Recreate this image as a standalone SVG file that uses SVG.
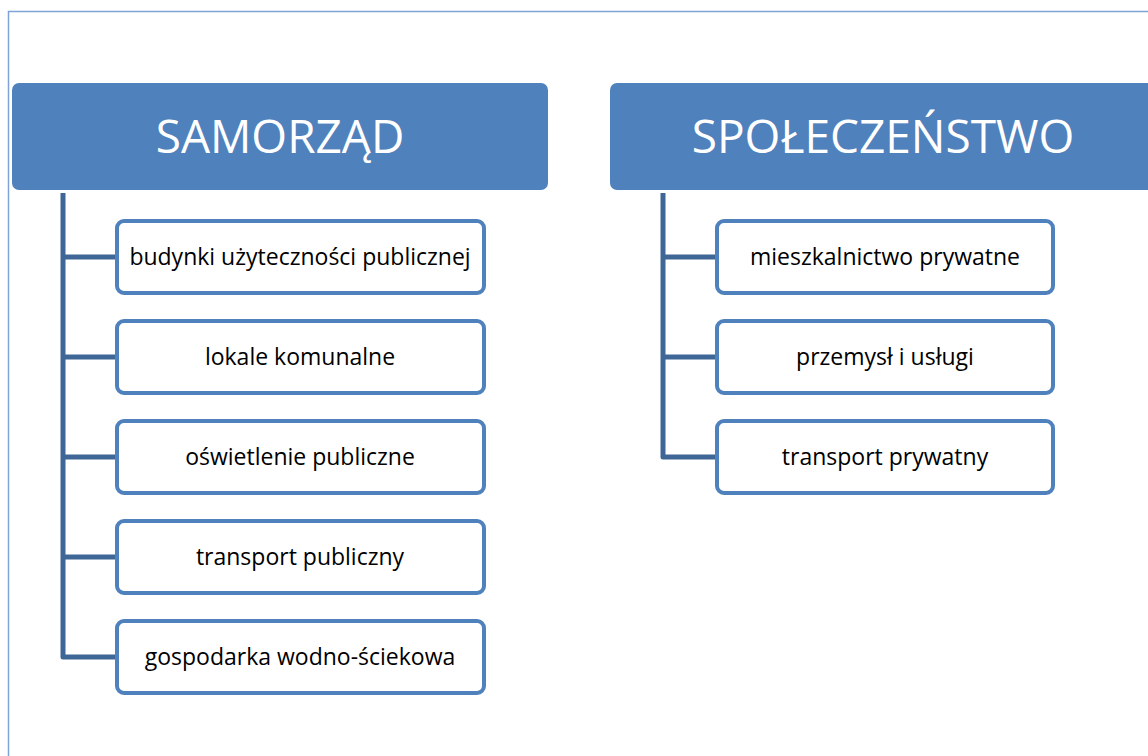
<svg xmlns="http://www.w3.org/2000/svg" width="1148" height="756" viewBox="0 0 1148 756">
<style>
.hdr{fill:#4F81BD;}
.hdrt{fill:#fff;font-family:"Open Sans","Liberation Sans",sans-serif;font-size:46px;text-anchor:middle;}
.box{fill:#fff;stroke:#4F81BD;stroke-width:4;}
.bt{fill:#000;font-family:"Open Sans","Liberation Sans",sans-serif;font-size:23px;text-anchor:middle;}
.con{fill:none;stroke:#3E6696;stroke-width:5;stroke-linejoin:round;}
</style>
<rect x="0" y="0" width="1148" height="756" fill="#fff"/>
<rect x="8.5" y="11.5" width="1160" height="760" fill="none" stroke="#7FA3D6" stroke-width="1.5"/>
<g id="connectors">
<path class="con" d="M63 193 V657 H117 M63 257 H117 M63 357 H117 M63 457 H117 M63 557 H117"/>
<path class="con" d="M663 193 V457 H717 M663 257 H717 M663 357 H717"/>
</g>
<g id="samorzad">
<rect class="hdr" x="12" y="83" width="536" height="107" rx="7"/>
<text class="hdrt" x="280" y="153">SAMORZĄD</text>
</g>
<g id="spoleczenstwo">
<rect class="hdr" x="610" y="83" width="560" height="107" rx="7"/>
<text class="hdrt" x="883" y="153">SPOŁECZEŃSTWO</text>
</g>
<g id="n1"><rect class="box" x="117" y="221" width="367" height="72" rx="7"/><text class="bt" x="300" y="265">budynki użyteczności publicznej</text></g>
<g id="n2"><rect class="box" x="117" y="321" width="367" height="72" rx="7"/><text class="bt" x="300" y="365">lokale komunalne</text></g>
<g id="n3"><rect class="box" x="117" y="421" width="367" height="72" rx="7"/><text class="bt" x="300" y="465">oświetlenie publiczne</text></g>
<g id="n4"><rect class="box" x="117" y="521" width="367" height="72" rx="7"/><text class="bt" x="300" y="565">transport publiczny</text></g>
<g id="n5"><rect class="box" x="117" y="621" width="367" height="72" rx="7"/><text class="bt" x="300" y="665">gospodarka wodno-ściekowa</text></g>
<g id="n6"><rect class="box" x="717" y="221" width="336" height="72" rx="7"/><text class="bt" x="885" y="265">mieszkalnictwo prywatne</text></g>
<g id="n7"><rect class="box" x="717" y="321" width="336" height="72" rx="7"/><text class="bt" x="885" y="365">przemysł i usługi</text></g>
<g id="n8"><rect class="box" x="717" y="421" width="336" height="72" rx="7"/><text class="bt" x="885" y="465">transport prywatny</text></g>
</svg>
